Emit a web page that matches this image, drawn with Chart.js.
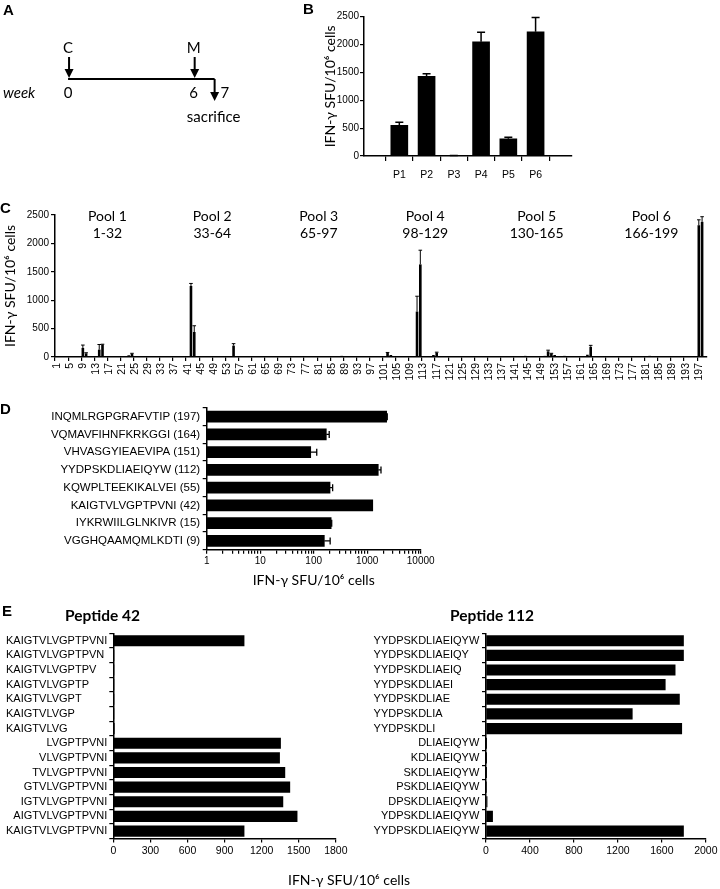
<!DOCTYPE html>
<html><head><meta charset="utf-8">
<script src="https://cdn.jsdelivr.net/npm/chart.js@4.4.1/dist/chart.umd.min.js"></script>
<style>
html,body{margin:0;padding:0;background:#fff;}
#fig{position:relative;width:720px;height:889px;overflow:hidden;background:#fff;}
canvas{position:absolute;}
.lbl{position:absolute;font-family:'Liberation Sans',Arial,sans-serif;font-weight:bold;font-size:15px;line-height:15px;color:#000;}
.pt{position:absolute;font-family:Lato,'Open Sans',sans-serif;font-weight:bold;font-size:15.5px;line-height:18px;color:#000;white-space:nowrap;}
.ax{position:absolute;font-family:Lato,'Open Sans',sans-serif;font-size:14px;line-height:16px;color:#000;white-space:nowrap;text-align:center;}
</style></head><body>
<div id="fig">
 <canvas id="cA" width="290" height="158" style="left:0;top:0"></canvas>
 <canvas id="cB" width="290" height="185" style="left:290px;top:0"></canvas>
 <canvas id="cC" width="720" height="200" style="left:0;top:190px"></canvas>
 <canvas id="cD" width="450" height="200" style="left:0;top:395px"></canvas>
 <canvas id="cE1" width="350" height="289" style="left:0;top:600px"></canvas>
 <canvas id="cE2" width="360" height="289" style="left:360px;top:600px"></canvas>
 <div class="lbl" style="left:3px;top:2px">A</div>
 <div class="lbl" style="left:303px;top:1px">B</div>
 <div class="lbl" style="left:0px;top:200px">C</div>
 <div class="lbl" style="left:0px;top:401px">D</div>
 <div class="lbl" style="left:2px;top:603px">E</div>
 <div class="pt" style="left:65px;top:606px">Peptide 42</div>
 <div class="pt" style="left:450px;top:606px">Peptide 112</div>
 <div class="ax" style="left:249px;top:872px;width:200px">IFN-γ SFU/10⁶ cells</div>
</div>
<script>
// ---------------- DATA ----------------
// Panel A: immunisation timeline
const timelineWeeks = [0, 6, 7];
const timelineEvents = ['C', 'M', 'sacrifice'];

// Panel B: pools
const bLabels = ['P1', 'P2', 'P3', 'P4', 'P5', 'P6'];
const bValues = [550, 1430, 5, 2050, 310, 2230];
const bErrors = [55, 45, 5, 170, 25, 255];

// Panel C: individual peptides 1..199
const cValues = [
  0, 0, 5, 0, 5, 10, 15, 0, 160, 65,
  0, 5, 0, 130, 220, 10, 5, 0, 15, 10,
  0, 10, 30, 55, 10, 5, 15, 0, 10, 0,
  5, 15, 0, 5, 15, 0, 10, 0, 5, 10,
  0, 1250, 440, 5, 10, 15, 5, 10, 0, 5,
  10, 5, 0, 5, 200, 10, 0, 5, 10, 15,
  15, 10, 5, 10, 0, 5, 10, 0, 5, 0,
  10, 5, 0, 10, 15, 5, 0, 10, 5, 0,
  5, 10, 0, 10, 5, 0, 5, 20, 0, 5,
  10, 0, 5, 10, 0, 5, 10, 0, 5, 0,
  10, 70, 35, 10, 5, 0, 5, 10, 0, 5,
  800, 1630, 10, 10, 15, 35, 75, 10, 15, 5,
  0, 10, 5, 0, 5, 10, 0, 5, 10, 5,
  10, 0, 5, 15, 10, 5, 0, 15, 10, 5,
  15, 10, 5, 20, 10, 5, 15, 10, 5, 20,
  100, 60, 35, 10, 5, 20, 10, 5, 10, 5,
  10, 15, 40, 180, 15, 5, 0, 5, 10, 0,
  5, 0, 10, 5, 0, 15, 5, 0, 10, 5,
  0, 20, 5, 10, 0, 5, 0, 5, 0, 5,
  0, 5, 0, 0, 5, 0, 2320, 2380, 0
];
const cErrPeptides = [9, 10, 14, 15, 24, 42, 43, 55, 102, 111, 112, 117, 151, 152, 164, 197, 198];
const cErrValues   = [50, 10, 90, 5, 10, 45, 110, 35, 10, 270, 250, 10, 20, 5, 25, 95, 90];
const poolNames  = ['Pool 1', 'Pool 2', 'Pool 3', 'Pool 4', 'Pool 5', 'Pool 6'];
const poolRanges = ['1-32', '33-64', '65-97', '98-129', '130-165', '166-199'];

// Panel D: selected peptides (log scale)
const dLabels = ['INQMLRGPGRAFVTIP (197)', 'VQMAVFIHNFKRKGGI (164)', 'VHVASGYIEAEVIPA (151)',
  'YYDPSKDLIAEIQYW (112)', 'KQWPLTEEKIKALVEI (55)', 'KAIGTVLVGPTPVNI (42)',
  'IYKRWIILGLNKIVR (15)', 'VGGHQAAMQMLKDTI (9)'];
const dValues = [2310, 172, 88, 1610, 202, 1270, 212, 158];
const dErrors = [60, 23, 26, 200, 24, 0, 5, 45];
const dTickLabels = [1, 10, 100, 1000, 10000];

// Panel E: truncations
const e42Labels = ['KAIGTVLVGPTPVNI', 'KAIGTVLVGPTPVN', 'KAIGTVLVGPTPV', 'KAIGTVLVGPTP', 'KAIGTVLVGPT',
  'KAIGTVLVGP', 'KAIGTVLVG', 'LVGPTPVNI', 'VLVGPTPVNI', 'TVLVGPTPVNI', 'GTVLVGPTPVNI',
  'IGTVLVGPTPVNI', 'AIGTVLVGPTPVNI', 'KAIGTVLVGPTPVNI'];
const e42Values = [1058, 2, 2, 2, 2, 2, 8, 1353, 1345, 1388, 1428, 1372, 1487, 1058];
const e112Labels = ['YYDPSKDLIAEIQYW', 'YYDPSKDLIAEIQY', 'YYDPSKDLIAEIQ', 'YYDPSKDLIAEI', 'YYDPSKDLIAE',
  'YYDPSKDLIA', 'YYDPSKDLI', 'DLIAEIQYW', 'KDLIAEIQYW', 'SKDLIAEIQYW', 'PSKDLIAEIQYW',
  'DPSKDLIAEIQYW', 'YDPSKDLIAEIQYW', 'YYDPSKDLIAEIQYW'];
const e112Values = [1797, 1797, 1721, 1631, 1760, 1331, 1781, 3, 3, 3, 5, 10, 60, 1797];

const yTitle = 'IFN-γ SFU/10⁶ cells';

// ---------------- SETUP ----------------
const SANS = "'Liberation Sans', Arial, sans-serif";
const CAL = "Lato, 'Open Sans', sans-serif";
Chart.defaults.font.family = SANS;
Chart.defaults.font.size = 10;
Chart.defaults.color = '#000';
Chart.defaults.animation = false;
Chart.defaults.responsive = false;
Chart.defaults.events = [];
Chart.defaults.plugins.legend.display = false;
Chart.defaults.plugins.tooltip.enabled = false;

const plain = v => String(v);
const BORDER = {display: true, color: '#000', width: 1.5};
function gridT(len, tickColor) {
  return {display: true, drawOnChartArea: false, drawTicks: true, tickLength: len,
          color: '#000', tickColor: tickColor || '#000', tickWidth: 1.2, lineWidth: 1.2};
}

const errorBarPlugin = {
  id: 'errorBars',
  afterDatasetsDraw(chart, args, opts) {
    const errs = opts.errors; if (!errs) return;
    const meta = chart.getDatasetMeta(0);
    const horiz = chart.options.indexAxis === 'y';
    const vScale = horiz ? chart.scales.x : chart.scales.y;
    const ds = chart.data.datasets[0].data;
    const ctx = chart.ctx;
    const cap = opts.cap || 4;
    ctx.save();
    ctx.strokeStyle = '#000';
    ctx.lineWidth = opts.lineWidth || 1.3;
    meta.data.forEach((el, i) => {
      const e = errs[i]; if (!e) return;
      const raw = ds[i];
      const v = (raw !== null && typeof raw === 'object') ? (horiz ? raw.x : raw.y) : raw;
      const end = vScale.getPixelForValue(v + e);
      ctx.beginPath();
      if (horiz) {
        ctx.moveTo(el.x, el.y); ctx.lineTo(end, el.y);
        ctx.moveTo(end, el.y - cap); ctx.lineTo(end, el.y + cap);
      } else {
        ctx.moveTo(el.x, el.y); ctx.lineTo(el.x, end);
        ctx.moveTo(el.x - cap, end); ctx.lineTo(el.x + cap, end);
      }
      ctx.stroke();
    });
    ctx.restore();
  }
};

// ---------------- PANEL A ----------------
const timelinePlugin = {
  id: 'timeline',
  afterDatasetsDraw(chart) {
    const ctx = chart.ctx;
    const xs = chart.scales.x;
    const y0 = chart.scales.y.getPixelForValue(0);
    function arrow(x, yFrom, yTo) {
      const dir = yTo > yFrom ? 1 : -1;
      ctx.beginPath();
      ctx.lineWidth = 2;
      ctx.moveTo(x, yFrom); ctx.lineTo(x, yTo - dir * 7);
      ctx.stroke();
      ctx.beginPath();
      ctx.moveTo(x - 4.5, yTo - dir * 9); ctx.lineTo(x + 4.5, yTo - dir * 9); ctx.lineTo(x, yTo);
      ctx.closePath(); ctx.fill();
    }
    ctx.save();
    ctx.fillStyle = '#000'; ctx.strokeStyle = '#000';
    ctx.textBaseline = 'middle';
    ctx.font = '15px ' + CAL;
    const last = timelineWeeks.length - 1;
    timelineWeeks.forEach((w, i) => {
      const x = xs.getPixelForValue(w);
      if (i < last) {
        arrow(x + 1, y0 - 22, y0 - 1);
        ctx.textAlign = 'center';
        ctx.fillText(timelineEvents[i], x, y0 - 31);
        ctx.fillText(String(w), x, y0 + 14);
      } else {
        arrow(x, y0, y0 + 22);
        ctx.textAlign = 'left';
        ctx.fillText(String(w), x + 6, y0 + 14);
        ctx.textAlign = 'center';
        ctx.fillText(timelineEvents[i], x - 1, y0 + 38);
      }
    });
    ctx.font = 'italic 15px ' + CAL;
    ctx.textAlign = 'left';
    ctx.fillText('week', 3, y0 + 14);
    ctx.restore();
  }
};
new Chart(document.getElementById('cA'), {
  type: 'scatter',
  data: {datasets: [{
    data: [{x: timelineWeeks[0], y: 0}, {x: timelineWeeks[timelineWeeks.length - 1], y: 0}],
    showLine: true, borderColor: '#000', borderWidth: 2, pointRadius: 0
  }]},
  options: {
    layout: {padding: 0},
    scales: {x: {display: false, min: -3.25, max: 10.6}, y: {display: false, min: -1, max: 1}}
  },
  plugins: [timelinePlugin]
});

// ---------------- PANEL B ----------------
new Chart(document.getElementById('cB'), {
  type: 'bar',
  data: {datasets: [{data: bValues.map((v, i) => ({x: i + 1, y: v})), backgroundColor: '#000', barThickness: 17}]},
  options: {
    layout: {padding: {top: 16.7, right: 8, left: 0, bottom: 0}},
    scales: {
      x: {type: 'linear', min: 0.34, max: 6.7,
          afterBuildTicks: s => { s.ticks = bLabels.map((_, i) => ({value: i + 1})); },
          ticks: {callback: v => bLabels[v - 1], font: {size: 10.5}, padding: 8, maxRotation: 0, autoSkip: false},
          grid: gridT(5), border: BORDER,
          afterFit: s => { s.height = 29; }},
      y: {min: 0, max: 2500,
          ticks: {stepSize: 500, font: {size: 10}, padding: 1, callback: plain},
          grid: gridT(4), border: BORDER,
          title: {display: true, text: yTitle, font: {family: CAL, size: 14, lineHeight: 1.2}, padding: {top: 31.6, bottom: 0}},
          afterFit: s => { s.width = 74; }}
    },
    plugins: {errorBars: {errors: bErrors, cap: 4, lineWidth: 1.5}}
  },
  plugins: [errorBarPlugin]
});

// ---------------- PANEL C ----------------
const peptideNumbers = cValues.map((_, i) => String(i + 1));
const cErrors = cValues.map((_, i) => {
  const k = cErrPeptides.indexOf(i + 1);
  return k >= 0 ? cErrValues[k] : 0;
});
const poolLabelPlugin = {
  id: 'poolLabels',
  afterDraw(chart) {
    const ctx = chart.ctx, xs = chart.scales.x, top = chart.chartArea.top;
    ctx.save();
    ctx.fillStyle = '#000';
    ctx.font = '14px ' + CAL;
    ctx.textAlign = 'center'; ctx.textBaseline = 'middle';
    poolNames.forEach((name, i) => {
      const [a, b] = poolRanges[i].split('-').map(Number);
      const cx = (xs.getPixelForValue(a - 1) + xs.getPixelForValue(b - 1)) / 2;
      ctx.fillText(name, cx, top + 1);
      ctx.fillText(poolRanges[i], cx, top + 18);
    });
    ctx.restore();
  }
};
new Chart(document.getElementById('cC'), {
  type: 'bar',
  data: {labels: peptideNumbers, datasets: [{data: cValues, backgroundColor: '#000', categoryPercentage: 1, barPercentage: 0.8}]},
  options: {
    layout: {padding: {top: 25, right: 12, left: 0, bottom: 0}},
    scales: {
      x: {ticks: {autoSkip: false, minRotation: 90, maxRotation: 90, font: {size: 10.5}, padding: 2,
                  callback: (v, i) => (i % 4 === 0 ? peptideNumbers[i] : '')},
          grid: gridT(4, c => (c.index % 4 === 0 ? '#000' : 'rgba(0,0,0,0)')), border: BORDER,
          afterFit: s => { s.height = 33; }},
      y: {min: 0, max: 2500,
          ticks: {stepSize: 500, font: {size: 10}, padding: 2, callback: plain},
          grid: gridT(4), border: BORDER,
          title: {display: true, text: yTitle, font: {family: CAL, size: 14, lineHeight: 1.2}, padding: {top: 2.1, bottom: 0}},
          afterFit: s => { s.width = 55; }}
    },
    plugins: {errorBars: {errors: cErrors, cap: 1.8, lineWidth: 1}}
  },
  plugins: [errorBarPlugin, poolLabelPlugin]
});

// ---------------- PANEL D ----------------
const logTicks = [];
[1, 10, 100, 1000].forEach(d => { for (let m = 1; m <= 9; m++) logTicks.push(d * m); });
logTicks.push(10000);
new Chart(document.getElementById('cD'), {
  type: 'bar',
  data: {labels: dLabels, datasets: [{data: dValues, backgroundColor: '#000', barThickness: 11}]},
  options: {
    indexAxis: 'y',
    layout: {padding: {top: 12.8, right: 29.3, left: 0, bottom: 0}},
    scales: {
      x: {type: 'logarithmic', min: 1, max: 10000,
          afterBuildTicks: s => { s.ticks = logTicks.map(v => ({value: v})); },
          ticks: {autoSkip: false, maxRotation: 0, font: {size: 10}, padding: 1,
                  callback: v => (dTickLabels.includes(v) ? String(v) : '')},
          grid: gridT(4), border: BORDER,
          title: {display: true, text: yTitle, font: {family: CAL, size: 14, lineHeight: 1.2}, padding: {top: 0, bottom: 6.6}},
          afterFit: s => { s.height = 45.2; }},
      y: {ticks: {font: {size: 11.5}, padding: 2.5}, grid: gridT(4), border: BORDER,
          afterFit: s => { s.width = 206.7; }}
    },
    plugins: {errorBars: {errors: dErrors, cap: 3.5, lineWidth: 1.3}}
  },
  plugins: [errorBarPlugin]
});

// ---------------- PANEL E ----------------
const E_FONT = 11;
function isPrefix(label, full) { return label !== full && full.startsWith(label); }
const prefixLabelPlugin = {
  id: 'prefixLabels',
  afterDraw(chart) {
    const s = chart.scales.y, labels = chart.data.labels, full = labels[0], ctx = chart.ctx;
    ctx.save();
    ctx.font = E_FONT + 'px ' + SANS;
    const right = s.right - s.options.grid.tickLength - s.options.ticks.padding;
    const start = right - ctx.measureText(full).width;
    ctx.fillStyle = '#000'; ctx.textAlign = 'left'; ctx.textBaseline = 'middle';
    labels.forEach((l, i) => { if (isPrefix(l, full)) ctx.fillText(l, start, s.getPixelForTick(i)); });
    ctx.restore();
  }
};
function makeE(id, labels, values, max, step, yWidth, padRight, tickPad) {
  new Chart(document.getElementById(id), {
    type: 'bar',
    data: {labels: labels, datasets: [{data: values, backgroundColor: '#000', barThickness: 10.5}]},
    options: {
      indexAxis: 'y',
      layout: {padding: {top: 33.4, right: padRight, left: 0, bottom: 0}},
      scales: {
        x: {min: 0, max: max, ticks: {stepSize: step, font: {size: 10.5}, padding: 2.5, maxRotation: 0, callback: plain},
            grid: gridT(4), border: BORDER, afterFit: s => { s.height = 50.6; }},
        y: {ticks: {font: {size: E_FONT}, padding: tickPad, autoSkip: false,
                    color: c => (isPrefix(labels[c.index], labels[0]) ? 'rgba(0,0,0,0)' : '#000')},
            grid: gridT(4), border: BORDER, afterFit: s => { s.width = yWidth; }}
      }
    },
    plugins: [prefixLabelPlugin]
  });
}
makeE('cE1', e42Labels, e42Values, 1800, 300, 113.3, 12.7, 2);
makeE('cE2', e112Labels, e112Values, 2000, 400, 126, 11.7, 2.7);
</script>
</body></html>
